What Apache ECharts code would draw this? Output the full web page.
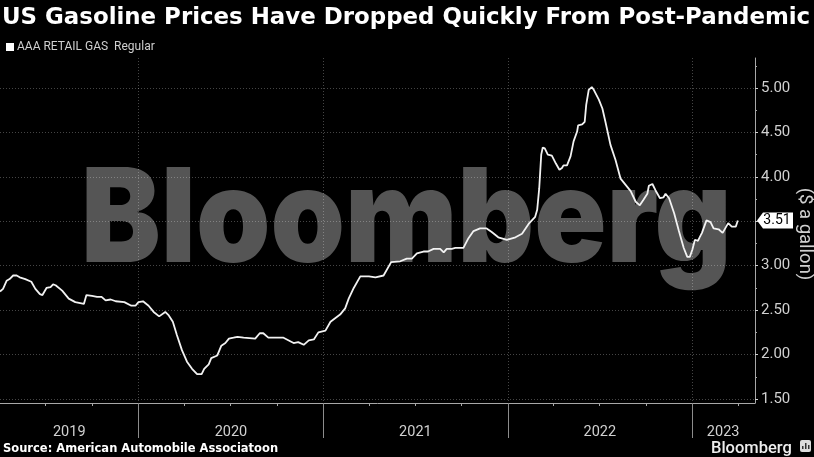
<!DOCTYPE html>
<html><head><meta charset="utf-8">
<style>html,body{margin:0;padding:0;background:#000}#c{width:814px;height:457px}</style>
<script src="https://cdn.jsdelivr.net/npm/echarts@6/dist/echarts.min.js"></script>
</head><body><div id="c"></div>
<script>
const seriesName = 'AAA RETAIL GAS  Regular';
const dates = ['2019-04-02','2019-04-08','2019-04-15','2019-04-21','2019-04-28','2019-05-05','2019-05-11','2019-05-22','2019-06-03','2019-06-11','2019-06-20','2019-06-25','2019-07-03','2019-07-11','2019-07-16','2019-07-21','2019-08-03','2019-08-16','2019-08-29','2019-09-15','2019-09-18','2019-09-20','2019-10-01','2019-10-11','2019-10-20','2019-10-28','2019-11-07','2019-11-17','2019-12-04','2019-12-18','2019-12-26','2020-01-01','2020-01-10','2020-01-21','2020-01-31','2020-02-11','2020-02-23','2020-03-01','2020-03-09','2020-03-17','2020-03-27','2020-04-06','2020-04-16','2020-04-26','2020-05-05','2020-05-10','2020-05-19','2020-05-24','2020-06-05','2020-06-13','2020-06-21','2020-06-28','2020-07-07','2020-07-15','2020-07-27','2020-08-19','2020-08-28','2020-09-04','2020-09-14','2020-09-24','2020-10-14','2020-11-03','2020-11-12','2020-11-23','2020-12-03','2020-12-13','2020-12-22','2021-01-05','2021-01-15','2021-02-03','2021-02-13','2021-02-20','2021-03-02','2021-03-15','2021-03-25','2021-04-01','2021-04-14','2021-04-30','2021-05-15','2021-06-02','2021-06-15','2021-06-25','2021-07-05','2021-07-18','2021-07-27','2021-08-07','2021-08-20','2021-08-27','2021-09-02','2021-09-12','2021-09-19','2021-10-05','2021-10-15','2021-10-25','2021-11-07','2021-11-20','2021-11-30','2021-12-13','2021-12-30','2022-01-16','2022-01-29','2022-02-11','2022-02-24','2022-02-28','2022-03-04','2022-03-08','2022-03-11','2022-03-15','2022-03-21','2022-03-29','2022-04-06','2022-04-13','2022-04-18','2022-04-21','2022-04-28','2022-05-05','2022-05-11','2022-05-18','2022-05-20','2022-05-28','2022-06-02','2022-06-05','2022-06-10','2022-06-16','2022-06-20','2022-06-30','2022-07-07','2022-07-13','2022-07-23','2022-08-02','2022-08-12','2022-08-22','2022-09-01','2022-09-11','2022-09-19','2022-09-26','2022-10-04','2022-10-07','2022-10-14','2022-10-20','2022-10-29','2022-11-05','2022-11-09','2022-11-16','2022-11-26','2022-12-05','2022-12-15','2022-12-22','2022-12-27','2023-01-01','2023-01-06','2023-01-12','2023-01-20','2023-01-29','2023-02-06','2023-02-12','2023-02-22','2023-03-02','2023-03-13','2023-03-20','2023-03-28','2023-04-01'];
const prices = [2.71,2.74,2.83,2.85,2.89,2.89,2.87,2.85,2.82,2.74,2.68,2.67,2.75,2.76,2.79,2.78,2.72,2.63,2.59,2.57,2.57,2.67,2.66,2.65,2.65,2.61,2.62,2.60,2.59,2.55,2.55,2.59,2.60,2.55,2.48,2.43,2.48,2.44,2.37,2.22,2.05,1.92,1.84,1.78,1.78,1.84,1.89,1.96,1.99,2.10,2.13,2.18,2.19,2.20,2.19,2.18,2.24,2.24,2.19,2.19,2.19,2.13,2.14,2.11,2.16,2.17,2.25,2.27,2.37,2.45,2.52,2.63,2.75,2.88,2.88,2.88,2.87,2.89,3.04,3.05,3.08,3.08,3.14,3.16,3.16,3.19,3.19,3.15,3.19,3.19,3.20,3.20,3.31,3.39,3.42,3.42,3.38,3.32,3.29,3.32,3.36,3.47,3.55,3.63,3.87,4.25,4.33,4.32,4.25,4.24,4.15,4.08,4.10,4.13,4.13,4.23,4.40,4.51,4.58,4.59,4.62,4.81,4.98,5.01,4.98,4.87,4.77,4.62,4.36,4.19,3.98,3.91,3.84,3.72,3.68,3.74,3.81,3.90,3.92,3.85,3.76,3.77,3.81,3.76,3.59,3.40,3.20,3.10,3.10,3.18,3.29,3.28,3.37,3.51,3.49,3.42,3.41,3.37,3.48,3.44,3.44,3.51];
const yLabels = [1.5,2,2.5,3,3.5,4,4.5,5];
const yMinor = [1.75,2.25,2.75,3.25,3.75,4.25,4.75,5.25];
const yearStarts = ['2020-01-01','2021-01-01','2022-01-01','2023-01-01'];
const quarterTicks = ['2019-07-01','2019-10-01','2020-04-01','2020-07-01','2020-10-01','2021-04-01','2021-07-01','2021-10-01','2022-04-01','2022-07-01','2022-10-01','2023-04-01'];
const yearLabelAt = ['2019-08-17','2020-07-02','2021-07-02','2022-07-02','2023-03-03'];
const xMin = '2019-04-02', xMax = '2023-05-05';
const yMin = 1.455, yMax = 5.338;
const ts = s => new Date(s + 'T00:00:00Z').getTime();

const chart = echarts.init(document.getElementById('c'), null, {renderer:'canvas'});
const last = prices[prices.length-1];
const grey = '#a8a8a8', txt = '#d0d0d0', dots = 'rgba(255,255,255,0.27)';
chart.setOption({
  backgroundColor:'#000',
  animation:false,
  title:{text:'US Gasoline Prices Have Dropped Quickly From Post-Pandemic',left:2,top:7,padding:0,
    textStyle:{color:'#fff',fontFamily:'DejaVu Sans',fontWeight:'bold',fontSize:22.9}},
  legend:{left:6,top:41,padding:0,icon:'rect',itemWidth:8,itemHeight:8,itemGap:0,
    textStyle:{color:'#cfcfcf',fontFamily:'Roboto',fontSize:12,padding:[0,0,0,-2]},data:[seriesName]},
  grid:{left:0,right:59,top:58,bottom:54,outerBoundsMode:'none',containLabel:false},
  xAxis:[
    {type:'value',scale:true,min:ts(xMin),max:ts(xMax),position:'bottom',
     axisLine:{show:true,lineStyle:{color:grey,width:1}},
     axisTick:{show:true,length:3,customValues:quarterTicks.map(ts),lineStyle:{color:grey}},
     axisLabel:{show:false},splitLine:{show:false}},
    {type:'value',scale:true,min:ts(xMin),max:ts(xMax),position:'bottom',
     axisLine:{show:false},
     axisTick:{show:true,length:35,customValues:yearStarts.map(ts),lineStyle:{color:'#8c8c8c'}},
     axisLabel:{show:true,customValues:yearLabelAt.map(ts),color:txt,fontFamily:'Roboto',fontSize:14.5,margin:22,
       formatter:v=>String(new Date(v).getUTCFullYear())},
     splitLine:{show:true,lineStyle:{color:dots,type:[1,2],width:1}}}
  ],
  yAxis:[
    {type:'value',min:yMin,max:yMax,position:'right',
     axisLine:{show:true,lineStyle:{color:grey,width:1}},
     axisTick:{show:true,length:3,customValues:yLabels,lineStyle:{color:'#d0d0d0'}},
     axisLabel:{show:true,customValues:yLabels,color:txt,fontFamily:'Roboto',fontSize:15,margin:6,formatter:v=>v.toFixed(2)},
     splitLine:{show:true,lineStyle:{color:dots,type:[1,2],width:1}},
     name:'($ a gallon)',nameLocation:'middle',nameRotate:-90,nameGap:40,nameMoveOverlap:false,
     nameTextStyle:{color:txt,fontFamily:'Roboto',fontSize:18.5,padding:[0,0,0,7]}},
    {type:'value',min:yMin,max:yMax,position:'right',
     axisLine:{show:false},
     axisTick:{show:true,length:2,customValues:yMinor,lineStyle:{color:grey}},
     axisLabel:{show:false},splitLine:{show:false}}
  ],
  graphic:[
    {type:'text',x:81,y:157,scaleX:0.91,z:-1,silent:true,style:{text:'Bloomberg',fill:'#555',fontFamily:'Inter',fontWeight:900,fontSize:131}},
    {type:'text',left:3,top:443,style:{text:'Source: American Automobile Associatoon',fill:'#fff',fontFamily:'DejaVu Sans',fontWeight:'bold',fontSize:11.5}},
    {type:'text',left:711,top:440,style:{text:'Bloomberg',fill:'#eee',fontFamily:'Roboto',fontWeight:500,fontSize:16.5}},
    {type:'rect',shape:{x:800,y:440,width:11,height:12,r:2},style:{fill:'#ddd'}},
    {type:'rect',shape:{x:802,y:446,width:1.5,height:3},style:{fill:'#333'}},
    {type:'rect',shape:{x:805,y:443,width:1.5,height:6},style:{fill:'#333'}},
    {type:'rect',shape:{x:808,y:445,width:1.5,height:4},style:{fill:'#333'}}
  ],
  series:[{
    name:seriesName,type:'line',xAxisIndex:0,yAxisIndex:0,showSymbol:false,smooth:false,
    data:dates.map((d,i)=>[ts(d),prices[i]]),
    lineStyle:{color:'#f2f2f2',width:1.8},itemStyle:{color:'#fff'},
    markPoint:{silent:true,symbol:'path://M0 8 L6 0 L36 0 L36 16 L6 16 Z',symbolSize:[36,16],symbolOffset:[20,0],symbolKeepAspect:false,
      itemStyle:{color:'#fff'},
      data:[{coord:[ts(xMax),last],value:last.toFixed(2),
        label:{show:true,formatter:last.toFixed(2),color:'#000',fontFamily:'Roboto',fontSize:14,position:'inside',offset:[2,0]}}]}
  }]
});
</script></body></html>
